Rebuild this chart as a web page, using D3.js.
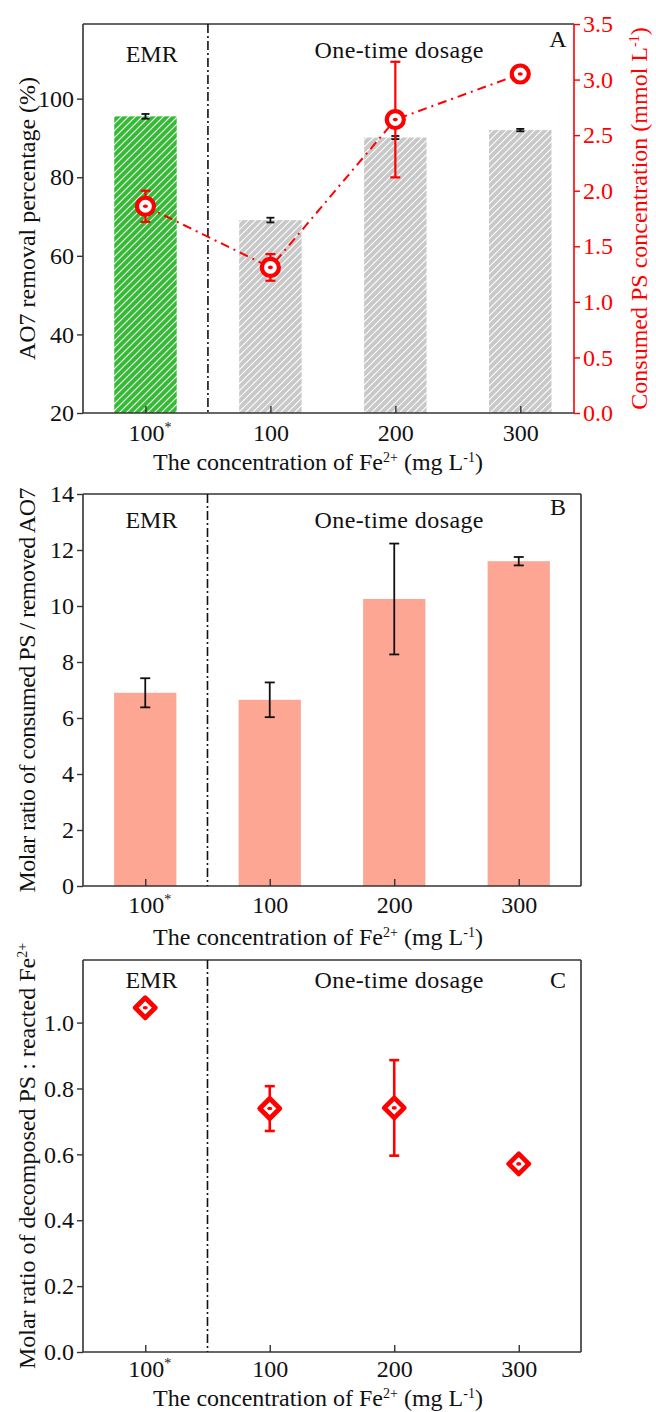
<!DOCTYPE html>
<html><head><meta charset="utf-8">
<script src="https://cdn.jsdelivr.net/npm/d3@7"></script>
<style>body{margin:0;background:#fff}svg{display:block}text{font-family:"Liberation Serif","Times New Roman",serif}</style>
</head><body>
<script>
const categories = ["100*", "100", "200", "300"];
const removalPct = [95.5, 69.1, 90.1, 92.0];
const removalErr = [0.6, 0.6, 0.4, 0.3];
const consumedPS = [1.86, 1.31, 2.64, 3.05];
const consumedPSErr = [0.14, 0.12, 0.52, 0.03];
const ratioPSAO7 = [6.9, 6.65, 10.25, 11.6];
const ratioPSAO7Err = [0.52, 0.62, 1.98, 0.15];
const ratioPSFe = [1.045, 0.739, 0.741, 0.571];
const ratioPSFeErr = [0.008, 0.068, 0.145, 0.008];
const ticksA = [20, 40, 60, 80, 100];
const ticksARight = [0, 0.5, 1.0, 1.5, 2.0, 2.5, 3.0, 3.5];
const ticksB = [0, 2, 4, 6, 8, 10, 12, 14];
const ticksC = [0, 0.2, 0.4, 0.6, 0.8, 1.0];

const W = 656, H = 1412;
const svg = d3.select("body").append("svg").attr("width", W).attr("height", H);
const defs = svg.append("defs");
function hatch(id, color) {
  const p = defs.append("pattern").attr("id", id).attr("patternUnits", "userSpaceOnUse")
    .attr("width", 7).attr("height", 7);
  p.append("rect").attr("width", 7).attr("height", 7).attr("fill", color);
  p.append("path").attr("d", "M0,7 L7,0 M-2,2 L2,-2 M5,9 L9,5")
    .attr("stroke", "#fff").attr("stroke-width", 1.1);
}
hatch("hGreen", "#33bb33");
hatch("hGray", "#c8c8c8");

const FS = 24, SUP = 14;
const left = 83;
const frameColor = "#333";

function xLabel(y) {
  const t = svg.append("text").attr("x", 318).attr("y", y).attr("text-anchor", "middle")
    .attr("font-size", FS).attr("fill", "#111");
  t.append("tspan").text("The concentration of Fe");
  t.append("tspan").attr("font-size", SUP).attr("dy", -8).text("2+");
  t.append("tspan").attr("dy", 8).text(" (mg L");
  t.append("tspan").attr("font-size", SUP).attr("dy", -8).text("-1");
  t.append("tspan").attr("dy", 8).text(")");
}

function panel(o) {
  const g = svg.append("g");
  const back = g.append("g");
  const x = d3.scaleLinear().domain(o.xDomain).range([left, o.right]);
  const y = d3.scaleLinear().domain(o.yDomain).range([o.bottom, o.top]);
  const fr = g.append("g").attr("stroke", frameColor).attr("stroke-width", 1.6).attr("fill", "none");
  fr.append("line").attr("x1", left).attr("x2", o.right).attr("y1", o.top).attr("y2", o.top);
  if (o.fullFrame) fr.append("line").attr("x1", o.right).attr("x2", o.right).attr("y1", o.top).attr("y2", o.bottom);
  const ya = g.append("g").attr("transform", `translate(${left},0)`)
    .call(d3.axisLeft(y).tickValues(o.yTicks).tickSize(6).tickPadding(3).tickFormat(o.yFmt));
  ya.select(".domain").attr("stroke", frameColor).attr("stroke-width", 1.6).attr("d", `M0,${o.bottom}V${o.top}`);
  ya.selectAll(".tick line").attr("stroke", frameColor).attr("stroke-width", 1.4);
  ya.selectAll("text").attr("font-size", FS).attr("fill", "#111").attr("font-family", "Liberation Serif");
  const xa = g.append("g").attr("transform", `translate(0,${o.bottom})`)
    .call(d3.axisBottom(x).tickValues([1, 2, 3, 4]).tickSize(-7).tickPadding(o.tickPad)
      .tickFormat(i => categories[i - 1]));
  xa.select(".domain").attr("stroke", frameColor).attr("stroke-width", 1.6).attr("d", `M${left},0H${o.right}`);
  xa.selectAll(".tick line").attr("stroke", frameColor).attr("stroke-width", 1.4);
  xa.selectAll("text").attr("font-size", FS).attr("fill", "#111").attr("font-family", "Liberation Serif")
    .each(function (d) {
      const s = categories[d - 1];
      if (s.endsWith("*")) {
        const t = d3.select(this).text(null).attr("dx", 4);
        t.append("tspan").text(s.slice(0, -1));
        t.append("tspan").attr("font-size", SUP).attr("dy", -9).text("*");
      }
    });
  g.append("line").attr("x1", x(1.5)).attr("x2", x(1.5)).attr("y1", o.top).attr("y2", o.bottom)
    .attr("stroke", "#111").attr("stroke-width", 1.6).attr("stroke-dasharray", "9,3,2,3");
  g.append("text").attr("x", x(1.05)).attr("y", o.emrY).attr("text-anchor", "middle")
    .attr("font-size", FS).attr("fill", "#111").text("EMR");
  g.append("text").attr("x", 399).attr("y", o.otdY).attr("text-anchor", "middle")
    .attr("font-size", FS).attr("fill", "#111").attr("textLength", 169).text("One-time dosage");
  g.append("text").attr("x", 558).attr("y", o.letterY).attr("text-anchor", "middle")
    .attr("font-size", FS).attr("fill", "#111").text(o.letter);
  return { g, back, x, y };
}

// ---------- Panel A ----------
{
  const { g, back, x, y } = panel({ xDomain: [0.5, 4.43], yDomain: [20, 119], top: 24, bottom: 413, right: 574,
    yTicks: ticksA, yFmt: d3.format("d"), letter: "A", fullFrame: false,
    emrY: 62, otdY: 58, letterY: 47, tickPad: 11 });
  const y2 = d3.scaleLinear().domain([0, 3.5]).range([413, 24]);
  const bw = x(1.25) - x(0.75);
  back.selectAll("rect").data(removalPct).join("rect")
    .attr("x", (d, i) => x(i + 1) - bw / 2).attr("width", bw)
    .attr("y", d => y(d)).attr("height", d => y(20) - y(d))
    .attr("fill", (d, i) => i === 0 ? "url(#hGreen)" : "url(#hGray)");
  const eb = g.append("g").attr("stroke", "#111").attr("stroke-width", 1.8);
  removalPct.forEach((v, i) => {
    const cx = x(i + 1), t = y(v + removalErr[i]), b = y(v - removalErr[i]);
    eb.append("line").attr("x1", cx).attr("x2", cx).attr("y1", t).attr("y2", b);
    eb.append("line").attr("x1", cx - 4).attr("x2", cx + 4).attr("y1", t).attr("y2", t);
    eb.append("line").attr("x1", cx - 4).attr("x2", cx + 4).attr("y1", b).attr("y2", b);
  });
  const ra = g.append("g").attr("transform", "translate(574,0)")
    .call(d3.axisRight(y2).tickValues(ticksARight).tickSize(6).tickPadding(3).tickFormat(d3.format(".1f")));
  ra.select(".domain").attr("stroke", "#ff0000").attr("stroke-width", 1.6).attr("d", "M0,413V24");
  ra.selectAll(".tick line").attr("stroke", "#ff0000").attr("stroke-width", 1.4);
  ra.selectAll("text").attr("font-size", FS).attr("fill", "#ff0000").attr("font-family", "Liberation Serif");
  g.append("path").datum(consumedPS)
    .attr("d", d3.line().x((d, i) => x(i + 1)).y(d => y2(d)))
    .attr("fill", "none").attr("stroke", "#ff0000").attr("stroke-width", 2)
    .attr("stroke-dasharray", "9,5,2,5");
  const re = g.append("g").attr("stroke", "#ff0000").attr("stroke-width", 2.2);
  consumedPS.forEach((v, i) => {
    const cx = x(i + 1), t = y2(v + consumedPSErr[i]), b = y2(v - consumedPSErr[i]);
    re.append("line").attr("x1", cx).attr("x2", cx).attr("y1", t).attr("y2", b);
    re.append("line").attr("x1", cx - 5).attr("x2", cx + 5).attr("y1", t).attr("y2", t);
    re.append("line").attr("x1", cx - 5).attr("x2", cx + 5).attr("y1", b).attr("y2", b);
  });
  g.append("g").selectAll("circle").data(consumedPS).join("circle")
    .attr("cx", (d, i) => x(i + 1)).attr("cy", d => y2(d)).attr("r", 8.5)
    .attr("fill", "#fff").attr("stroke", "#ff0000").attr("stroke-width", 4.2);
  g.append("g").selectAll("ellipse").data(consumedPS).join("ellipse")
    .attr("cx", (d, i) => x(i + 1)).attr("cy", d => y2(d)).attr("rx", 2.5).attr("ry", 1.8)
    .attr("fill", "#ff0000");
  svg.append("text").attr("transform", `translate(35,${(24 + 413) / 2}) rotate(-90)`)
    .attr("text-anchor", "middle").attr("font-size", FS).attr("fill", "#111").text("AO7 removal percentage (%)");
  const rl = svg.append("text").attr("transform", `translate(647,${(24 + 413) / 2}) rotate(-90)`)
    .attr("text-anchor", "middle").attr("font-size", FS).attr("fill", "#ff0000");
  rl.append("tspan").text("Consumed PS concentration (mmol L");
  rl.append("tspan").attr("font-size", SUP).attr("dy", -8).text("-1");
  rl.append("tspan").attr("dy", 8).text(")");
  xLabel(470);
}

// ---------- Panel B ----------
{
  const { g, back, x, y } = panel({ xDomain: [0.5, 4.5], yDomain: [0, 14], top: 494, bottom: 886, right: 581,
    yTicks: ticksB, yFmt: d3.format("d"), letter: "B", fullFrame: true,
    emrY: 528, otdY: 528, letterY: 515, tickPad: 10 });
  const bw = x(1.25) - x(0.75);
  back.selectAll("rect").data(ratioPSAO7).join("rect")
    .attr("x", (d, i) => x(i + 1) - bw / 2).attr("width", bw)
    .attr("y", d => y(d)).attr("height", d => y(0) - y(d)).attr("fill", "#fda693");
  const eb = g.append("g").attr("stroke", "#111").attr("stroke-width", 1.8);
  ratioPSAO7.forEach((v, i) => {
    const cx = x(i + 1), t = y(v + ratioPSAO7Err[i]), b = y(v - ratioPSAO7Err[i]);
    eb.append("line").attr("x1", cx).attr("x2", cx).attr("y1", t).attr("y2", b);
    eb.append("line").attr("x1", cx - 5).attr("x2", cx + 5).attr("y1", t).attr("y2", t);
    eb.append("line").attr("x1", cx - 5).attr("x2", cx + 5).attr("y1", b).attr("y2", b);
  });
  svg.append("text").attr("transform", `translate(35,${(494 + 886) / 2}) rotate(-90)`)
    .attr("text-anchor", "middle").attr("font-size", FS).attr("fill", "#111")
    .attr("textLength", 405).text("Molar ratio of consumed PS / removed AO7");
  xLabel(945);
}

// ---------- Panel C ----------
{
  const { g, back, x, y } = panel({ xDomain: [0.5, 4.5], yDomain: [0, 1.19], top: 960, bottom: 1352, right: 581,
    yTicks: ticksC, yFmt: d3.format(".1f"), letter: "C", fullFrame: true,
    emrY: 988, otdY: 988, letterY: 988, tickPad: 8 });
  const re = g.append("g").attr("stroke", "#ff0000").attr("stroke-width", 2.6);
  ratioPSFe.forEach((v, i) => {
    const cx = x(i + 1), t = y(v + ratioPSFeErr[i]), b = y(v - ratioPSFeErr[i]);
    re.append("line").attr("x1", cx).attr("x2", cx).attr("y1", t).attr("y2", b);
    re.append("line").attr("x1", cx - 5).attr("x2", cx + 5).attr("y1", t).attr("y2", t);
    re.append("line").attr("x1", cx - 5).attr("x2", cx + 5).attr("y1", b).attr("y2", b);
  });
  const s = 10;
  g.append("g").selectAll("path").data(ratioPSFe).join("path")
    .attr("d", (d, i) => { const cx = x(i + 1), cy = y(d);
      return `M${cx},${cy - s}L${cx + s},${cy}L${cx},${cy + s}L${cx - s},${cy}Z`; })
    .attr("fill", "#fff").attr("stroke", "#ff0000").attr("stroke-width", 4.8).attr("stroke-linejoin", "round");
  g.append("g").selectAll("ellipse").data(ratioPSFe).join("ellipse")
    .attr("cx", (d, i) => x(i + 1)).attr("cy", d => y(d)).attr("rx", 2.6).attr("ry", 1.8)
    .attr("fill", "#ff0000");
  const yl = svg.append("text").attr("transform", `translate(35,${(960 + 1352) / 2}) rotate(-90)`)
    .attr("text-anchor", "middle").attr("font-size", FS).attr("fill", "#111");
  yl.append("tspan").text("Molar ratio of decomposed PS : reacted Fe");
  yl.append("tspan").attr("font-size", SUP).attr("dy", -8).text("2+");
  xLabel(1406);
}
</script>
</body></html>
